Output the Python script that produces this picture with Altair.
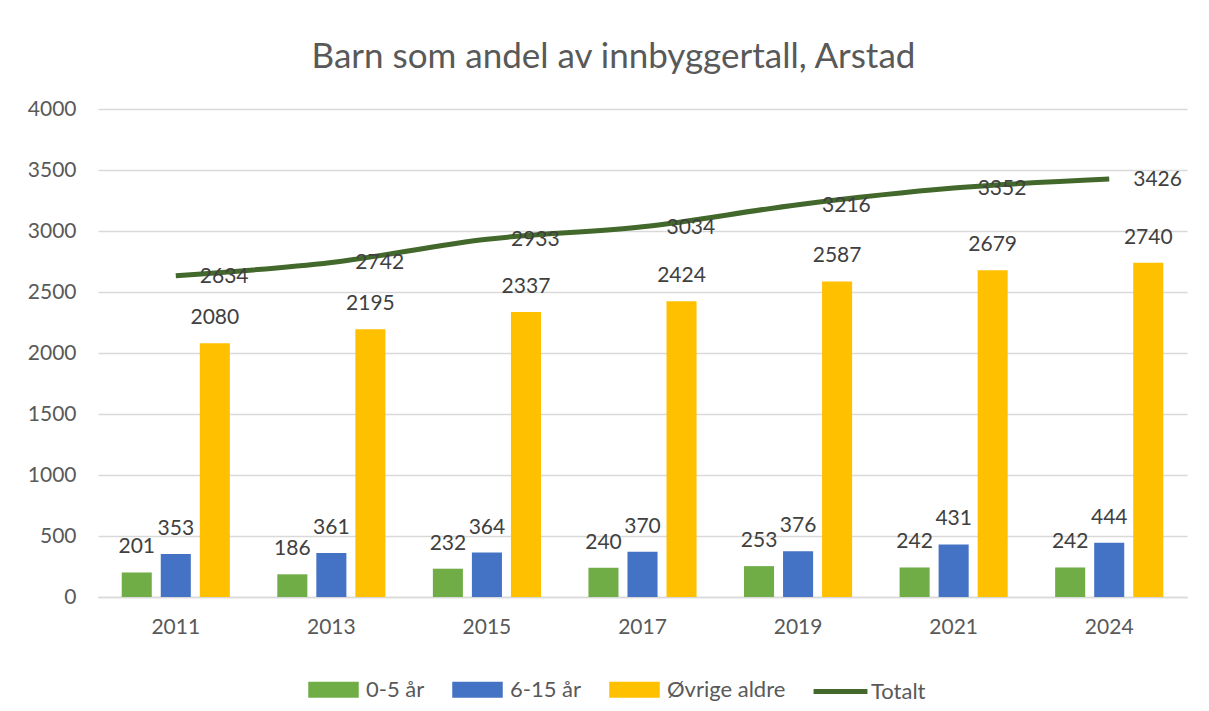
import altair as alt
import pandas as pd

years = ["2011", "2013", "2015", "2017", "2019", "2021", "2024"]
age_0_5 = [201, 186, 232, 240, 253, 242, 242]
age_6_15 = [353, 361, 364, 370, 376, 431, 444]
other_ages = [2080, 2195, 2337, 2424, 2587, 2679, 2740]
total = [2634, 2742, 2933, 3034, 3216, 3352, 3426]
series_names = ["0-5 år", "6-15 år", "Øvrige aldre"]
bar_colors = ["#70AD47", "#4472C4", "#FFC000"]
line_name = "Totalt"
line_color = "#43682B"
y_ticks = [0, 500, 1000, 1500, 2000, 2500, 3000, 3500, 4000]

rows = []
for i, yr in enumerate(years):
    for s, vals in zip(series_names, [age_0_5, age_6_15, other_ages]):
        rows.append({"År": yr, "Serie": s, "Verdi": vals[i]})
bars_df = pd.DataFrame(rows)
line_df = pd.DataFrame({"År": years, "Serie": [line_name] * len(years), "Verdi": total})

FONT = "Lato"
GRID = "#D9D9D9"
AXIS_TXT = "#595959"
LBL_TXT = "#404040"
TICK_FS = 21
LBL_FS = 21
LEG_FS = 22

x_enc = alt.X(
    "År:N", sort=years,
    scale=alt.Scale(paddingInner=0.305, paddingOuter=0.1525),
    axis=alt.Axis(title=None, labelAngle=0, ticks=False, domainColor=GRID, domainWidth=1.5,
                  labelFont=FONT, labelFontSize=TICK_FS, labelColor=AXIS_TXT, labelPadding=19),
)
y_enc = alt.Y(
    "Verdi:Q", scale=alt.Scale(domain=[0, 4000], nice=False),
    axis=alt.Axis(title=None, values=y_ticks, format="d", domain=False, ticks=False,
                  labelFont=FONT, labelFontSize=TICK_FS, labelColor=AXIS_TXT, labelPadding=22,
                  gridColor=GRID, gridWidth=1.3),
)
xoff = alt.XOffset("Serie:N", sort=series_names, scale=alt.Scale(paddingInner=0.23, paddingOuter=0))

bars = alt.Chart(bars_df).mark_bar().encode(
    x=x_enc, y=y_enc, xOffset=xoff,
    color=alt.Color(
        "Serie:N", sort=series_names,
        scale=alt.Scale(domain=series_names, range=bar_colors),
        legend=alt.Legend(title=None, orient="none", legendX=210, legendY=555, direction="horizontal",
                          symbolType="M-1,-0.32H1V0.32H-1Z", symbolSize=2550, symbolStrokeWidth=0,
                          symbolOpacity=1, labelFont=FONT, labelFontSize=LEG_FS, labelColor=AXIS_TXT,
                          labelOffset=7, columnPadding=27),
    ),
)
bar_labels = alt.Chart(bars_df).mark_text(
    font=FONT, fontSize=LBL_FS, color=LBL_TXT, baseline="middle", dy=-25
).encode(x=x_enc, y=y_enc, xOffset=xoff, text=alt.Text("Verdi:Q", format="d"))

line = alt.Chart(line_df).mark_line(strokeWidth=5, interpolate="monotone").encode(
    x=x_enc, y=y_enc,
    stroke=alt.Stroke(
        "Serie:N", scale=alt.Scale(domain=[line_name], range=[line_color]),
        legend=alt.Legend(title=None, orient="none", legendX=713, legendY=553, direction="horizontal",
                          symbolType="stroke", symbolSize=2900, symbolStrokeWidth=5,
                          labelFont=FONT, labelFontSize=LEG_FS, labelColor=AXIS_TXT, labelOffset=1),
    ),
)
line_labels = alt.Chart(line_df).mark_text(
    font=FONT, fontSize=LBL_FS, color=LBL_TXT, align="left", baseline="middle", dx=24, dy=1
).encode(x=x_enc, y=y_enc, text=alt.Text("Verdi:Q", format="d"))

chart = alt.layer(bars, bar_labels, line, line_labels).properties(
    width=1089, height=488,
    autosize=alt.AutoSizeParams(type="none"),
    padding={"left": 90, "top": 101, "right": 14, "bottom": 106},
    title=alt.Title("Barn som andel av innbyggertall, Arstad", font=FONT, fontSize=35,
                    fontWeight="normal", color=AXIS_TXT, anchor="middle", dx=-29, offset=23),
    background="white",
).configure_view(stroke=None)

chart.save("out.html", embed_options={"renderer": "svg", "actions": False})
